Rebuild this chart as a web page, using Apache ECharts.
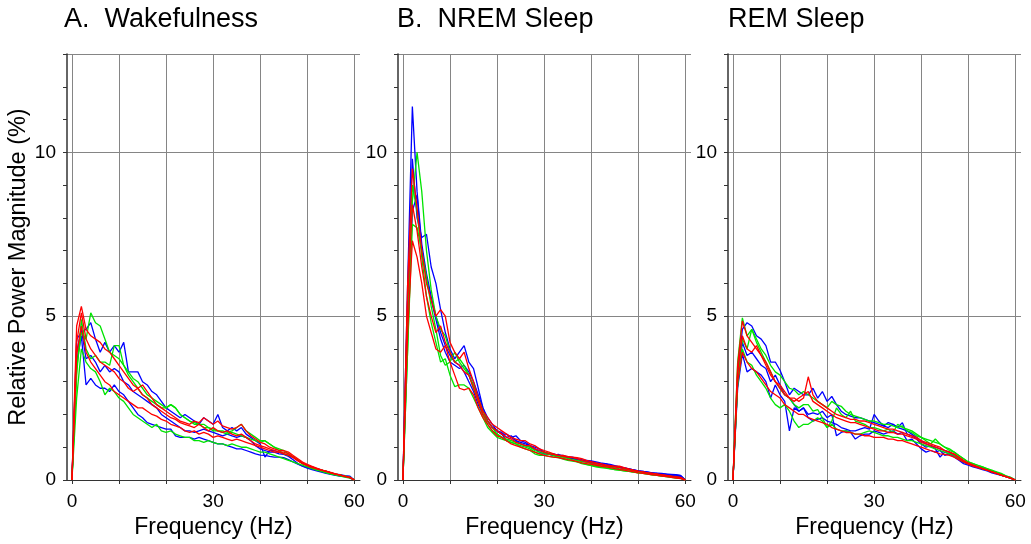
<!DOCTYPE html>
<html><head><meta charset="utf-8">
<script src="https://cdn.jsdelivr.net/npm/echarts@6/dist/echarts.min.js"></script>
<style>html,body{margin:0;padding:0;background:#fff}#c{width:1031px;height:544px}</style>
</head><body><div id="c"></div>
<script>
// Frequency bins (Hz)
const freqs = [0,1,2,3,4,5,6,7,8,9,10,11,12,13,14,15,16,17,18,19,20,21,22,23,24,25,26,27,28,29,30,
  31,32,33,34,35,36,37,38,39,40,41,42,43,44,45,46,47,48,49,50,51,52,53,54,55,56,57,58,59,60];

const panelTitles = ['A.  Wakefulness', 'B.  NREM Sleep', 'REM Sleep'];
const xTickValues = [0,10,20,30,40,50,60];
const xLabelValues = [0,30,60];
const yLabelValues = [0,5,10];
const seriesColors = ['#0000ff','#0000ff','#0000ff','#00e400','#00e400','#00e400','#ff0000','#ff0000','#ff0000'];

// Panel A: Wakefulness
const A_b1 = [
0, 4.3, 4.5, 4.6, 4.8, 4.3, 3.9, 4.2, 3.9, 4.1,
3.9, 4.2, 3.3, 3.3, 3.3, 3.0, 2.9, 2.7, 2.6, 2.4,
2.2, 2.1, 2.0, 1.9, 2.0, 1.9, 1.8, 1.7, 1.9, 1.8,
1.7, 2.0, 1.6, 1.5, 1.6, 1.5, 1.6, 1.4, 1.3, 1.2,
1.1, 0.7, 0.9, 0.9, 0.85, 0.8, 0.75, 0.7, 0.6, 0.5,
0.45, 0.4, 0.35, 0.3, 0.26, 0.22, 0.18, 0.16, 0.13, 0.12,
0];
const A_b2 = [
0, 3.6, 4.4, 2.9, 3.1, 2.9, 2.8, 2.8, 2.7, 2.9,
2.7, 2.6, 2.4, 2.2, 2.0, 1.9, 1.75, 1.7, 1.65, 1.6,
1.55, 1.55, 1.35, 1.3, 1.3, 1.3, 1.25, 1.3, 1.25, 1.2,
1.15, 1.1, 1.1, 1.05, 1.0, 0.95, 0.95, 0.9, 0.85, 0.8,
0.76, 0.75, 0.72, 0.7, 0.7, 0.68, 0.62, 0.55, 0.48, 0.42,
0.38, 0.34, 0.3, 0.26, 0.22, 0.19, 0.16, 0.13, 0.1, 0.07,
0];
const A_b3 = [
0, 3.9, 4.6, 3.7, 3.8, 3.6, 3.3, 3.5, 3.3, 3.4,
3.3, 3.0, 2.9, 2.7, 2.6, 2.5, 2.4, 2.3, 2.2, 2.0,
1.9, 1.8, 1.7, 1.6, 1.5, 1.5, 1.45, 1.5, 1.55, 1.5,
1.45, 1.4, 1.35, 1.4, 1.35, 1.3, 1.35, 1.3, 1.2, 1.05,
0.95, 0.9, 0.85, 0.85, 0.8, 0.78, 0.72, 0.62, 0.5, 0.42,
0.36, 0.32, 0.28, 0.24, 0.2, 0.17, 0.14, 0.12, 0.1, 0.08,
0];
const A_g1 = [
0, 3.4, 4.5, 4.3, 5.1, 4.8, 4.7, 4.3, 3.9, 3.8,
3.7, 3.5, 3.3, 3.1, 3.0, 2.8, 2.6, 2.5, 2.4, 2.3,
2.2, 2.3, 2.2, 2.0, 1.9, 1.8, 1.75, 1.7, 1.7, 1.6,
1.55, 1.5, 1.5, 1.45, 1.5, 1.6, 1.7, 1.5, 1.4, 1.3,
1.2, 1.2, 1.1, 1.0, 0.95, 0.9, 0.8, 0.7, 0.6, 0.5,
0.44, 0.38, 0.34, 0.3, 0.26, 0.22, 0.18, 0.15, 0.12, 0.09,
0];
const A_g2 = [
0, 3.2, 4.9, 4.0, 3.7, 3.8, 3.6, 3.6, 3.5, 4.1,
4.1, 3.5, 3.2, 3.0, 2.8, 2.6, 2.5, 2.4, 2.3, 2.2,
2.2, 2.3, 2.2, 2.0, 1.9, 1.8, 1.7, 1.7, 1.6, 1.6,
1.5, 1.5, 1.45, 1.4, 1.45, 1.4, 1.35, 1.3, 1.25, 1.2,
1.15, 1.2, 1.1, 1.0, 0.9, 0.8, 0.75, 0.7, 0.6, 0.5,
0.44, 0.38, 0.34, 0.3, 0.26, 0.22, 0.18, 0.15, 0.12, 0.09,
0];
const A_g3 = [
0, 2.5, 4.0, 3.6, 3.4, 3.3, 3.0, 2.6, 2.8, 2.7,
2.5, 2.4, 2.2, 2.0, 1.9, 1.8, 1.7, 1.6, 1.7, 1.5,
1.45, 1.5, 1.4, 1.35, 1.3, 1.3, 1.2, 1.2, 1.15, 1.2,
1.15, 1.1, 1.1, 1.05, 1.1, 1.05, 1.0, 1.0, 0.95, 0.9,
0.85, 0.85, 0.8, 0.75, 0.7, 0.65, 0.6, 0.55, 0.5, 0.45,
0.4, 0.35, 0.3, 0.26, 0.22, 0.18, 0.15, 0.12, 0.09, 0.06,
0];
const A_r1 = [
0, 4.7, 5.3, 4.6, 4.4, 4.3, 4.2, 4.0, 3.9, 3.7,
3.5, 3.3, 3.1, 2.9, 2.8, 2.9, 2.7, 2.5, 2.3, 2.2,
2.1, 2.0, 1.9, 1.8, 1.75, 1.7, 1.8, 1.75, 1.9, 1.8,
1.7, 1.8, 1.65, 1.6, 1.55, 1.6, 1.7, 1.5, 1.35, 1.25,
1.15, 1.1, 1.0, 0.95, 0.9, 0.9, 0.85, 0.75, 0.65, 0.55,
0.48, 0.42, 0.36, 0.31, 0.27, 0.23, 0.19, 0.15, 0.12, 0.08,
0];
const A_r2 = [
0, 4.2, 5.1, 4.3, 4.0, 3.8, 3.6, 3.5, 3.4, 3.3,
3.1, 3.0, 2.8, 2.7, 2.8, 2.6, 2.5, 2.3, 2.2, 2.1,
2.0, 1.9, 1.85, 1.75, 1.7, 1.65, 1.6, 1.7, 1.6, 1.5,
1.6, 1.5, 1.45, 1.5, 1.4, 1.35, 1.4, 1.3, 1.2, 1.1,
1.05, 1.0, 0.95, 0.9, 0.85, 0.85, 0.8, 0.7, 0.6, 0.52,
0.45, 0.4, 0.35, 0.3, 0.26, 0.22, 0.18, 0.15, 0.11, 0.08,
0];
const A_r3 = [
0, 3.8, 4.7, 3.9, 3.6, 3.4, 3.2, 3.0, 2.9, 2.7,
2.6, 2.5, 2.4, 2.3, 2.2, 2.2, 2.1, 2.0, 1.95, 1.85,
1.8, 1.7, 1.65, 1.6, 1.5, 1.45, 1.5, 1.4, 1.45, 1.4,
1.3, 1.35, 1.3, 1.25, 1.2, 1.25, 1.2, 1.15, 1.1, 1.05,
1.0, 0.95, 0.9, 0.85, 0.85, 0.8, 0.75, 0.68, 0.58, 0.5,
0.44, 0.38, 0.34, 0.3, 0.26, 0.22, 0.18, 0.15, 0.11, 0.08,
0];

// Panel B: NREM sleep
const B_b1 = [
0, 6.0, 11.4, 8.8, 7.2, 6.3, 5.6, 5.0, 4.5, 4.1,
3.8, 3.6, 3.5, 3.3, 3.0, 2.7, 2.3, 2.0, 1.8, 1.6,
1.5, 1.45, 1.3, 1.35, 1.2, 1.1, 1.05, 1.0, 0.95, 0.9,
0.85, 0.8, 0.8, 0.75, 0.75, 0.7, 0.7, 0.65, 0.62, 0.6,
0.58, 0.55, 0.52, 0.5, 0.48, 0.44, 0.4, 0.37, 0.34, 0.31,
0.28, 0.26, 0.24, 0.22, 0.2, 0.19, 0.18, 0.16, 0.15, 0.13,
0];
const B_b2 = [
0, 5.5, 9.8, 8.0, 7.4, 7.5, 6.5, 6.0, 5.2, 4.5,
4.0, 3.7, 3.9, 4.1, 3.6, 3.4, 2.8, 2.2, 1.8, 1.6,
1.5, 1.4, 1.2, 1.3, 1.35, 1.2, 1.15, 1.05, 1.0, 0.95,
0.85, 0.8, 0.75, 0.78, 0.72, 0.68, 0.66, 0.62, 0.6, 0.58,
0.55, 0.52, 0.5, 0.5, 0.45, 0.42, 0.4, 0.37, 0.34, 0.31,
0.28, 0.26, 0.24, 0.22, 0.21, 0.2, 0.18, 0.17, 0.16, 0.14,
0];
const B_b3 = [
0, 4.5, 8.2, 8.7, 7.0, 6.2, 5.5, 4.9, 4.3, 3.9,
3.6, 3.5, 3.4, 3.5, 3.3, 3.0, 2.6, 2.2, 1.9, 1.7,
1.5, 1.4, 1.4, 1.3, 1.2, 1.15, 1.1, 1.05, 0.95, 0.85,
0.8, 0.78, 0.75, 0.7, 0.72, 0.68, 0.65, 0.62, 0.58, 0.55,
0.52, 0.5, 0.48, 0.45, 0.42, 0.4, 0.38, 0.35, 0.32, 0.3,
0.27, 0.25, 0.23, 0.21, 0.19, 0.17, 0.15, 0.14, 0.12, 0.1,
0];
const B_g1 = [
0, 4.0, 8.5, 10.0, 8.8, 7.0, 5.8, 5.0, 4.6, 4.4,
3.9, 3.6, 3.7, 3.5, 3.2, 2.8, 2.4, 2.0, 1.7, 1.5,
1.4, 1.3, 1.25, 1.2, 1.15, 1.1, 1.05, 1.0, 0.9, 0.85,
0.85, 0.82, 0.78, 0.72, 0.7, 0.66, 0.62, 0.6, 0.56, 0.54,
0.5, 0.47, 0.44, 0.42, 0.4, 0.37, 0.34, 0.32, 0.3, 0.27,
0.25, 0.23, 0.21, 0.19, 0.17, 0.15, 0.13, 0.11, 0.09, 0.07,
0];
const B_g2 = [
0, 4.0, 7.8, 7.7, 7.0, 6.2, 5.3, 4.6, 3.8, 3.5,
3.6, 3.9, 3.6, 3.4, 3.2, 2.9, 2.5, 2.1, 1.8, 1.6,
1.4, 1.3, 1.2, 1.15, 1.1, 1.05, 1.0, 0.95, 0.85, 0.8,
0.8, 0.78, 0.75, 0.7, 0.66, 0.62, 0.6, 0.56, 0.52, 0.48,
0.45, 0.42, 0.4, 0.38, 0.35, 0.32, 0.3, 0.28, 0.26, 0.24,
0.22, 0.2, 0.18, 0.16, 0.14, 0.12, 0.1, 0.09, 0.07, 0.05,
0];
const B_g3 = [
0, 5.0, 9.0, 8.2, 6.8, 5.6, 4.8, 4.2, 3.6, 3.7,
3.2, 2.85, 2.9, 2.9, 2.8, 2.5, 2.2, 1.9, 1.6, 1.45,
1.3, 1.25, 1.2, 1.15, 1.1, 1.0, 0.95, 0.9, 0.8, 0.75,
0.75, 0.72, 0.7, 0.68, 0.64, 0.6, 0.58, 0.55, 0.5, 0.47,
0.44, 0.4, 0.38, 0.36, 0.34, 0.32, 0.3, 0.28, 0.26, 0.24,
0.22, 0.2, 0.18, 0.16, 0.14, 0.12, 0.1, 0.08, 0.06, 0.05,
0];
const B_r1 = [
0, 6.0, 9.5, 8.3, 7.0, 6.0, 5.5, 5.0, 5.2, 5.0,
4.2, 3.9, 3.7, 3.9, 3.4, 3.0, 2.5, 2.1, 1.9, 1.7,
1.6, 1.5, 1.4, 1.3, 1.25, 1.2, 1.2, 1.1, 1.05, 0.95,
0.9, 0.85, 0.8, 0.75, 0.75, 0.72, 0.7, 0.68, 0.65, 0.6,
0.56, 0.52, 0.5, 0.46, 0.44, 0.42, 0.42, 0.38, 0.34, 0.3,
0.27, 0.25, 0.22, 0.2, 0.18, 0.16, 0.14, 0.12, 0.1, 0.08,
0];
const B_r2 = [
0, 5.5, 8.4, 7.6, 6.5, 5.6, 5.0, 4.5, 4.7, 4.2,
3.9, 3.6, 3.5, 3.3, 3.2, 2.8, 2.4, 2.0, 1.8, 1.6,
1.5, 1.4, 1.3, 1.25, 1.15, 1.1, 1.05, 1.05, 0.95, 0.9,
0.85, 0.8, 0.78, 0.75, 0.72, 0.7, 0.68, 0.65, 0.6, 0.55,
0.52, 0.5, 0.46, 0.44, 0.42, 0.4, 0.38, 0.35, 0.32, 0.29,
0.26, 0.24, 0.22, 0.2, 0.18, 0.15, 0.13, 0.11, 0.09, 0.07,
0];
const B_r3 = [
0, 4.5, 7.3, 6.8, 6.0, 5.0, 4.5, 4.0, 3.9, 4.1,
3.6, 3.2, 2.8, 2.75, 2.8, 2.6, 2.2, 1.9, 1.7, 1.5,
1.35, 1.3, 1.2, 1.1, 1.05, 1.0, 0.95, 0.9, 0.85, 0.8,
0.75, 0.72, 0.7, 0.68, 0.65, 0.62, 0.6, 0.56, 0.52, 0.5,
0.48, 0.45, 0.42, 0.4, 0.38, 0.35, 0.32, 0.3, 0.27, 0.25,
0.22, 0.2, 0.18, 0.16, 0.14, 0.12, 0.1, 0.08, 0.06, 0.04,
0];

// Panel C: REM sleep
const C_b1 = [
0, 3.2, 4.6, 4.8, 4.7, 4.4, 4.3, 4.1, 3.6, 3.6,
3.35, 3.0, 2.6, 2.8, 2.7, 2.6, 2.6, 2.8, 2.5, 2.7,
2.4, 2.55, 2.3, 2.1, 2.0, 1.95, 1.9, 1.9, 1.85, 1.8,
1.75, 1.7, 1.65, 1.75, 1.7, 1.6, 1.55, 1.5, 1.4, 1.3,
1.2, 1.1, 1.05, 1.0, 0.95, 0.9, 0.85, 0.75, 0.65, 0.55,
0.5, 0.45, 0.4, 0.36, 0.32, 0.27, 0.22, 0.17, 0.12, 0.07,
0];
const C_b2 = [
0, 2.8, 3.85, 3.3, 3.4, 3.3, 3.2, 3.0, 2.5, 2.9,
2.6, 2.4, 1.5, 2.2, 2.1, 2.2, 2.0, 2.05, 2.0, 2.1,
1.9, 2.0, 1.35, 1.45, 1.5, 1.45, 1.25, 1.35, 1.4, 1.4,
1.5, 1.45, 1.4, 1.45, 1.5, 1.4, 1.45, 1.2, 1.25, 1.1,
0.95, 0.85, 0.9, 0.85, 0.9, 0.75, 0.8, 0.75, 0.65, 0.55,
0.48, 0.44, 0.4, 0.36, 0.32, 0.26, 0.2, 0.15, 0.1, 0.06,
0];
const C_b3 = [
0, 3.0, 4.2, 3.8, 3.9, 3.7, 3.5, 3.4, 3.0, 3.2,
2.9, 2.6, 2.5, 2.3, 2.1, 2.2, 1.9, 1.8, 1.85, 1.9,
1.8, 1.75, 1.7, 1.6, 1.55, 1.5, 1.5, 1.55, 1.6, 1.55,
2.0, 1.8, 1.65, 1.6, 1.7, 1.6, 1.75, 1.4, 1.35, 1.25,
1.1, 1.0, 1.05, 0.95, 0.7, 0.85, 0.8, 0.7, 0.6, 0.5,
0.45, 0.4, 0.36, 0.32, 0.28, 0.22, 0.18, 0.14, 0.1, 0.06,
0];
const C_g1 = [
0, 3.6, 4.95, 4.4, 4.6, 4.3, 4.0, 3.8, 3.5, 3.3,
3.2, 3.0, 2.8, 2.75, 2.6, 2.7, 2.6, 2.5, 2.4, 2.3,
2.2, 2.4, 2.3, 2.25, 2.1, 2.0, 1.95, 1.9, 1.85, 1.8,
1.8, 1.75, 1.7, 1.7, 1.65, 1.6, 1.65, 1.5, 1.45, 1.35,
1.3, 1.25, 1.2, 1.15, 1.1, 1.0, 0.95, 0.85, 0.75, 0.65,
0.55, 0.5, 0.45, 0.4, 0.34, 0.28, 0.23, 0.18, 0.12, 0.07,
0];
const C_g2 = [
0, 3.0, 4.3, 4.0, 4.6, 4.2, 3.9, 3.6, 3.3, 3.0,
2.8, 2.6, 2.5, 2.3, 2.2, 2.3, 2.3, 2.1, 2.15, 1.9,
1.6, 1.8, 2.2, 2.0, 1.9, 2.1, 1.8, 1.75, 1.7, 1.6,
1.6, 1.55, 1.5, 1.55, 1.45, 1.7, 1.6, 1.55, 1.5, 1.4,
1.3, 1.2, 1.1, 1.25, 1.1, 1.0, 0.9, 0.85, 0.75, 0.65,
0.55, 0.5, 0.45, 0.4, 0.35, 0.3, 0.25, 0.2, 0.13, 0.08,
0];
const C_g3 = [
0, 2.9, 4.0, 3.6, 3.5, 3.2, 3.0, 2.8, 2.5, 2.3,
2.2, 2.3, 2.1, 1.8, 1.6, 1.7, 1.7, 1.8, 1.9, 1.8,
1.6, 1.7, 1.55, 1.5, 1.5, 1.45, 1.4, 1.4, 1.45, 1.5,
1.45, 1.4, 1.35, 1.35, 1.3, 1.3, 1.25, 1.2, 1.2, 1.15,
1.1, 1.05, 1.0, 0.95, 0.9, 0.85, 0.8, 0.75, 0.65, 0.55,
0.5, 0.45, 0.4, 0.35, 0.3, 0.25, 0.2, 0.15, 0.1, 0.06,
0];
const C_r1 = [
0, 3.5, 4.85, 4.4, 4.2, 4.0, 3.8, 3.5, 3.2, 3.0,
2.8, 2.6, 2.5, 2.5, 2.4, 2.5, 3.15, 2.6, 2.4, 2.3,
2.2, 2.1, 2.0, 1.95, 1.9, 1.85, 1.85, 1.8, 1.8, 1.75,
1.7, 1.65, 1.6, 1.55, 1.55, 1.5, 1.45, 1.4, 1.35, 1.3,
1.2, 1.15, 1.1, 1.05, 1.0, 0.9, 0.85, 0.8, 0.7, 0.6,
0.52, 0.46, 0.4, 0.35, 0.3, 0.25, 0.2, 0.15, 0.1, 0.06,
0];
const C_r2 = [
0, 3.3, 4.4, 4.0, 3.9, 4.1, 3.8, 3.6, 3.3, 3.0,
2.9, 2.7, 2.5, 2.4, 2.5, 2.6, 2.7, 2.4, 2.3, 2.2,
2.1, 2.0, 1.9, 1.85, 1.8, 1.75, 1.75, 1.7, 1.65, 1.6,
1.55, 1.5, 1.5, 1.45, 1.45, 1.4, 1.4, 1.35, 1.3, 1.25,
1.15, 1.1, 1.05, 1.0, 0.95, 0.9, 0.85, 0.78, 0.68, 0.58,
0.5, 0.45, 0.4, 0.35, 0.3, 0.25, 0.2, 0.15, 0.1, 0.06,
0];
const C_r3 = [
0, 3.0, 3.9, 3.6, 3.4, 3.3, 3.1, 2.9, 2.7, 2.6,
2.5, 2.3, 2.2, 2.1, 2.0, 2.0, 1.9, 1.85, 1.8, 1.75,
1.7, 1.6, 1.55, 1.5, 1.45, 1.45, 1.4, 1.4, 1.35, 1.35,
1.3, 1.3, 1.3, 1.25, 1.25, 1.2, 1.2, 1.15, 1.1, 1.05,
1.0, 0.95, 0.9, 0.85, 0.8, 0.78, 0.75, 0.7, 0.62, 0.55,
0.48, 0.42, 0.38, 0.34, 0.3, 0.25, 0.2, 0.15, 0.1, 0.05,
0];

const panelData = [
  [A_b1, A_b2, A_b3, A_g1, A_g2, A_g3, A_r1, A_r2, A_r3],
  [B_b1, B_b2, B_b3, B_g1, B_g2, B_g3, B_r1, B_r2, B_r3],
  [C_b1, C_b2, C_b3, C_g1, C_g2, C_g3, C_r1, C_r2, C_r3]
];

const FONT = '"Liberation Sans", Arial, Helvetica, sans-serif';
const gridLefts = [67, 398, 728];
const titleLefts = [64, 397, 728];
const GRID_W = 293, GRID_TOP = 54, GRID_H = 426;
const gridColor = '#858585', axisColor = '#333';

const grid = [], xAxis = [], yAxis = [], series = [], title = [];
gridLefts.forEach((left, p) => {
  grid.push({left: left, top: GRID_TOP, width: GRID_W, height: GRID_H});
  title.push({text: panelTitles[p], left: titleLefts[p], top: 6, padding: 0,
    textStyle: {fontSize: 27, fontWeight: 'normal', color: '#000', fontFamily: FONT}});
  xAxis.push({
    gridIndex: p, type: 'value', min: -1.05, max: 61.2,
    axisLine: {show: true, onZero: false, lineStyle: {color: axisColor, width: 1}},
    axisTick: {show: true, customValues: xTickValues, length: 4, lineStyle: {color: axisColor}},
    axisLabel: {customValues: xLabelValues, fontSize: 19, color: '#000', margin: 12, fontFamily: FONT},
    splitLine: {show: true, lineStyle: {color: gridColor, width: 1}},
    name: 'Frequency (Hz)', nameLocation: 'middle', nameGap: 33,
    nameTextStyle: {fontSize: 23, color: '#000', fontFamily: FONT}
  });
  yAxis.push({
    gridIndex: p, type: 'value', min: 0, max: 13, interval: 5, position: 'left',
    axisLine: {show: false}, axisTick: {show: false},
    axisLabel: {customValues: yLabelValues, fontSize: 19, color: '#000', margin: 11, fontFamily: FONT},
    splitLine: {show: true, lineStyle: {color: gridColor, width: 1}},
    name: p === 0 ? 'Relative Power Magnitude (%)' : '', nameLocation: 'middle', nameGap: 35,
    nameTextStyle: {fontSize: 23.5, color: '#000', fontFamily: FONT}
  });
  yAxis.push({
    gridIndex: p, type: 'value', min: 0, max: 13, interval: 1, position: 'left',
    axisLine: {show: true, lineStyle: {color: axisColor, width: 1.5}},
    axisTick: {show: true, length: 4, lineStyle: {color: axisColor}},
    axisLabel: {show: false}, splitLine: {show: false}
  });
  panelData[p].forEach((arr, k) => {
    series.push({
      type: 'line', xAxisIndex: p, yAxisIndex: p * 2, symbol: 'none', silent: true,
      lineStyle: {color: seriesColors[k], width: 1.3},
      itemStyle: {color: seriesColors[k]},
      data: arr.map((v, i) => [freqs[i], v])
    });
  });
});

const chart = echarts.init(document.getElementById('c'), null, {renderer: 'canvas'});
chart.setOption({animation: false, backgroundColor: '#fff', title, grid, xAxis, yAxis, series});
</script>
</body></html>
